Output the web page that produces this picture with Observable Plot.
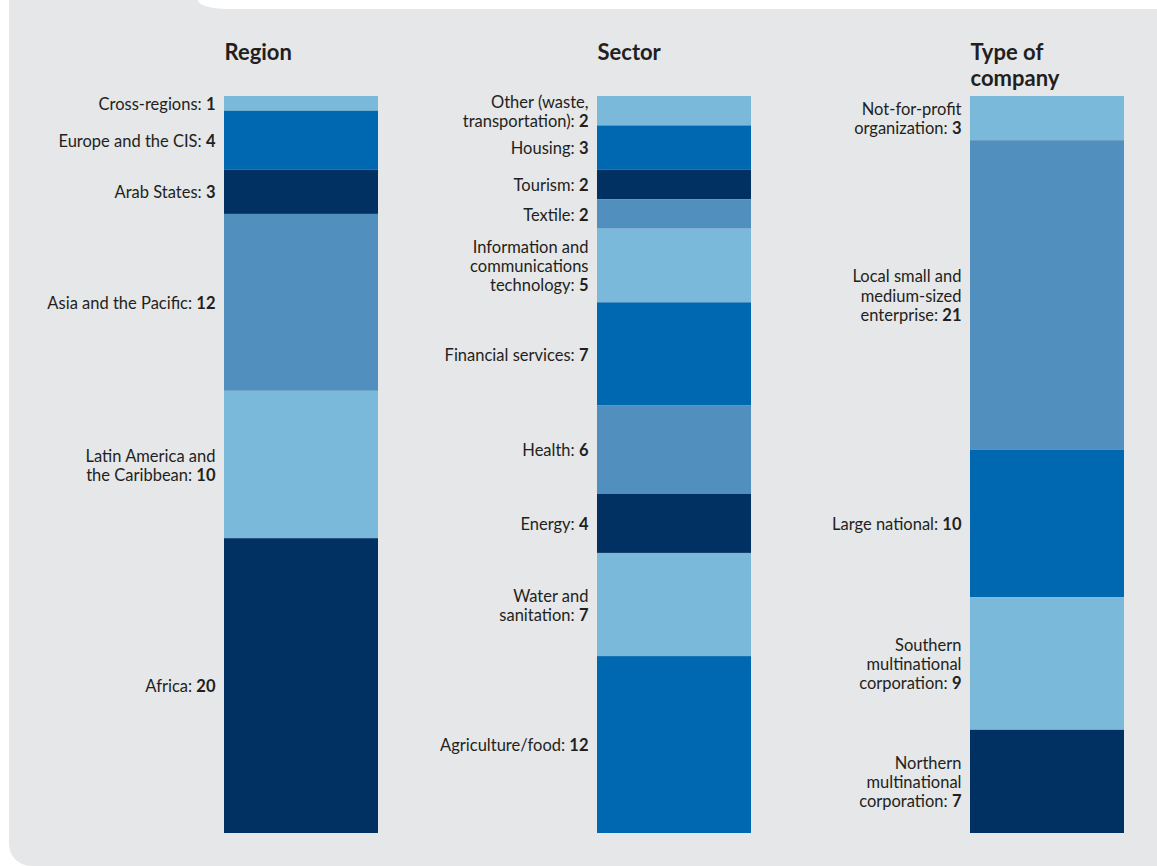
<!DOCTYPE html>
<html>
<head>
<meta charset="utf-8">
<script src="https://cdn.jsdelivr.net/npm/d3@7"></script>
<script src="https://cdn.jsdelivr.net/npm/@observablehq/plot@0.6"></script>
<style>
  html, body { margin: 0; padding: 0; background: #ffffff; }
  #page { position: relative; width: 1157px; height: 866px; overflow: hidden; }
  #panel { position: absolute; left: 9px; top: 0; right: 0; bottom: 0;
           background: #e6e7e9; border-bottom-left-radius: 22px; }
  #tab { position: absolute; left: 198px; top: 0; right: 0; height: 9px;
         background: #ffffff; border-bottom-left-radius: 28px 9px; }
  #chart { position: absolute; left: 0; top: 0; }
</style>
</head>
<body>
<div id="page">
  <div id="panel"></div>
  <div id="tab"></div>
  <div id="chart"></div>
</div>
<script>
// Column headings
const groups = ["Region", "Sector", "Type of\ncompany"];

// Region breakdown (top to bottom)
const regionLabels = ["Cross-regions", "Europe and the CIS", "Arab States", "Asia and the Pacific", "Latin America and\nthe Caribbean", "Africa"];
const regionValues = [1, 4, 3, 12, 10, 20];

// Sector breakdown (top to bottom)
const sectorLabels = ["Other (waste,\ntransportation)", "Housing", "Tourism", "Textile", "Information and\ncommunications\ntechnology", "Financial services", "Health", "Energy", "Water and\nsanitation", "Agriculture/food"];
const sectorValues = [2, 3, 2, 2, 5, 7, 6, 4, 7, 12];

// Company type breakdown (top to bottom)
const typeLabels = ["Not-for-profit\norganization", "Local small and\nmedium-sized\nenterprise", "Large national", "Southern\nmultinational\ncorporation", "Northern\nmultinational\ncorporation"];
const typeValues = [3, 21, 10, 9, 7];

const rows = [
  ...regionLabels.map((label, i) => ({group: groups[0], label, value: regionValues[i]})),
  ...sectorLabels.map((label, i) => ({group: groups[1], label, value: sectorValues[i]})),
  ...typeLabels.map((label, i) => ({group: groups[2], label, value: typeValues[i]}))
];

// Four blues used for the segments
const LIGHT = "#7ab9d9", BLUE = "#0067b1", NAVY = "#003162", STEEL = "#518fbe";
const segmentColors = [
  LIGHT, BLUE, NAVY, STEEL, LIGHT, NAVY,
  LIGHT, BLUE, NAVY, STEEL, LIGHT, BLUE, STEEL, NAVY, LIGHT, BLUE,
  LIGHT, STEEL, BLUE, LIGHT, NAVY
];

const textColor = "#231f20";
const fontFamily = "Lato, 'Noto Sans', sans-serif";

const chart = Plot.plot({
  width: 1157,
  height: 866,
  marginLeft: 223,
  marginRight: 33,
  marginTop: 96,
  marginBottom: 33,
  style: {background: "transparent", color: textColor, fontFamily, fontSize: "16.5px"},
  x: {type: "band", domain: groups, paddingInner: 0.588, paddingOuter: 0, axis: null},
  y: {domain: [0, 50], reverse: true, axis: null},
  color: {type: "ordinal", domain: rows.map(d => d.label), range: segmentColors},
  marks: [
    Plot.barY(rows, Plot.stackY({x: "group", y: "value", fill: "label", order: null})),
    Plot.text(rows, Plot.stackY({
      x: "group", y: "value", order: null,
      text: d => `${d.label}: ${d.value}`,
      textAnchor: "end", lineAnchor: "middle", lineHeight: 1.17,
      dx: -86, fontSize: 16.5, fill: textColor
    })),
    Plot.text(groups, {
      x: d => d, text: d => d,
      frameAnchor: "top", textAnchor: "start", lineAnchor: "top",
      dx: -77, dy: -55, fontSize: 22, fontWeight: "bold", lineHeight: 1.18,
      fill: textColor
    })
  ]
});

// Set the count at the end of each segment label in bold
for (const t of chart.querySelectorAll("text")) {
  const spans = t.querySelectorAll("tspan");
  const el = spans.length ? spans[spans.length - 1] : t;
  const s = el.textContent;
  const m = /^(.*: )(\d+)$/.exec(s);
  if (!m) continue;
  el.textContent = m[1];
  const b = document.createElementNS("http://www.w3.org/2000/svg", "tspan");
  b.setAttribute("font-weight", "bold");
  b.textContent = m[2];
  el.appendChild(b);
}

document.getElementById("chart").appendChild(chart);
</script>
</body>
</html>
